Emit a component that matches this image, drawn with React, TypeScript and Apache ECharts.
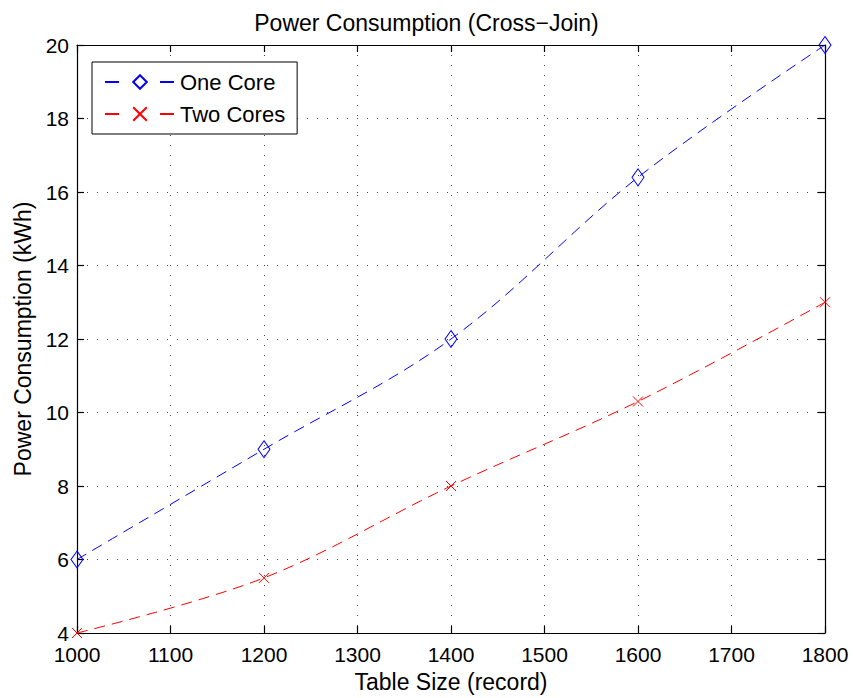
import React, { useEffect, useRef } from "react";
import * as echarts from "echarts";

const tableSizes = [1000, 1200, 1400, 1600, 1800];
const oneCore = [6, 9, 12, 16.4, 20];
const twoCores = [4, 5.5, 8, 10.3, 13];

const FONT = "'Liberation Sans', Arial, Helvetica, sans-serif";
const BLUE = "#0000ff";
const RED = "#ff0000";

export default function App() {
  const ref = useRef<HTMLDivElement>(null);
  useEffect(() => {
    if (!ref.current) return;
    const chart = echarts.init(ref.current, undefined, { renderer: "svg" });
    const gridLine = { show: true, lineStyle: { color: "#444", width: 1, type: [1, 9] as any } };
    const axisLine = { show: true, onZero: false, lineStyle: { color: "#000", width: 1.2 } };
    const tick = { show: true, inside: true, length: 7, lineStyle: { color: "#000", width: 1.2 } };
    chart.setOption({
      animation: false,
      backgroundColor: "#fff",
      textStyle: { fontFamily: FONT },
      title: {
        text: "Power Consumption (Cross\u2212Join)",
        left: "center",
        top: 6,
        textStyle: { fontFamily: FONT, fontSize: 23, fontWeight: "normal", color: "#000" },
      },
      grid: { left: 77, right: 28, top: 45, bottom: 63, containLabel: false },
      legend: {
        left: 92,
        top: 62,
        orient: "vertical",
        backgroundColor: "#fff",
        borderColor: "#000",
        borderWidth: 1,
        padding: [9, 12, 9, 12],
        itemWidth: 70,
        itemHeight: 17,
        itemGap: 10,
        lineStyle: { type: [14, 41] as any },
        textStyle: { fontFamily: FONT, fontSize: 22, color: "#000" },
        data: ["One Core", "Two Cores"],
      },
      xAxis: [
        {
          type: "value",
          min: 1000,
          max: 1800,
          interval: 100,
          name: "Table Size (record)",
          nameLocation: "middle",
          nameGap: 37,
          nameTextStyle: { fontFamily: FONT, fontSize: 23, color: "#000" },
          axisLine,
          axisTick: tick,
          axisLabel: {
            fontFamily: FONT,
            fontSize: 21,
            color: "#000",
            margin: 11,
            formatter: (v: number) => String(v),
          },
          splitLine: gridLine,
        },
        {
          type: "value",
          position: "top",
          min: 1000,
          max: 1800,
          interval: 100,
          axisLine,
          axisTick: tick,
          axisLabel: { show: false },
          splitLine: { show: false },
        },
      ],
      yAxis: [
        {
          type: "value",
          min: 4,
          max: 20,
          interval: 2,
          name: "Power Consumption (kWh)",
          nameLocation: "middle",
          nameGap: 43,
          nameTextStyle: { fontFamily: FONT, fontSize: 23, color: "#000" },
          axisLine,
          axisTick: tick,
          axisLabel: { fontFamily: FONT, fontSize: 21, color: "#000", margin: 8 },
          splitLine: gridLine,
        },
        {
          type: "value",
          position: "right",
          min: 4,
          max: 20,
          interval: 2,
          axisLine,
          axisTick: tick,
          axisLabel: { show: false },
          splitLine: { show: false },
        },
      ],
      series: [
        {
          name: "One Core",
          type: "line",
          data: tableSizes.map((x, i) => [x, oneCore[i]]),
          smooth: 0.35,
          symbol: "diamond",
          symbolSize: [12, 17],
          showAllSymbol: true,
          lineStyle: { color: BLUE, width: 1, type: [11, 7] as any },
          itemStyle: { color: "transparent", borderColor: BLUE, borderWidth: 1 },
          z: 3,
        },
        {
          name: "Two Cores",
          type: "line",
          data: tableSizes.map((x, i) => [x, twoCores[i]]),
          smooth: 0.35,
          symbol: "path://M0,0L10,10M10,0L0,10",
          symbolSize: 10,
          showAllSymbol: true,
          lineStyle: { color: RED, width: 1, type: [11, 7] as any },
          itemStyle: { color: "transparent", borderColor: RED, borderWidth: 1 },
          z: 3,
        },
      ],
    });
    return () => chart.dispose();
  }, []);
  return (
    <div
      ref={ref}
      style={{ position: "fixed", left: 0, top: 0, width: 853, height: 698, background: "#fff" }}
    />
  );
}
